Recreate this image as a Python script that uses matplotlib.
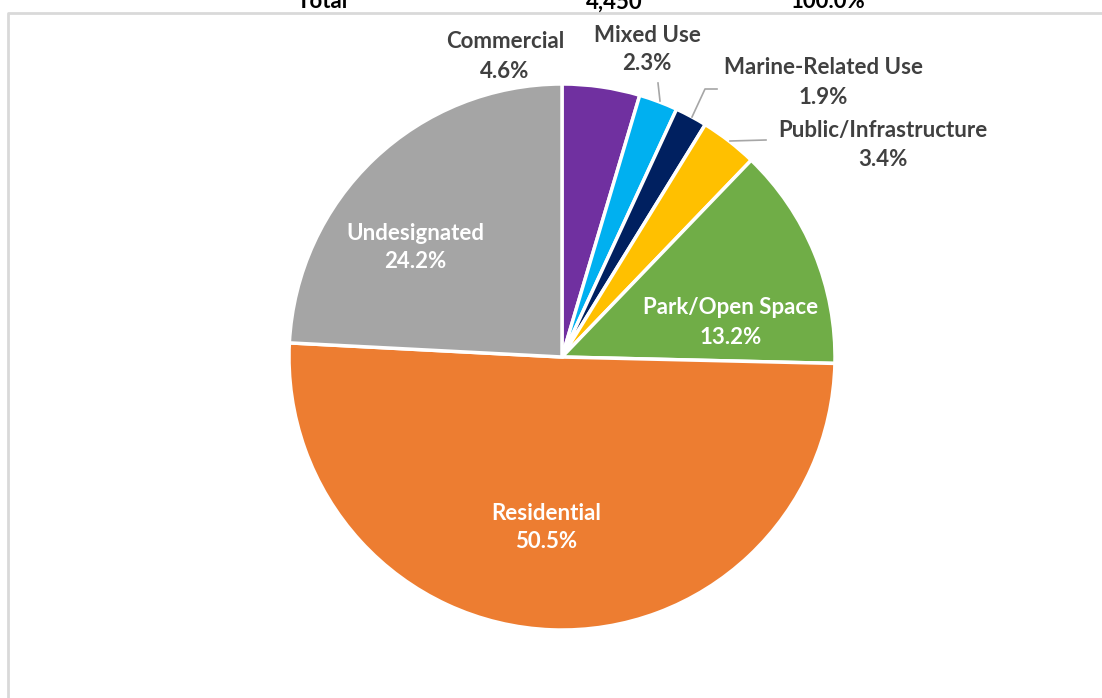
import matplotlib
matplotlib.use('Agg')
import matplotlib.pyplot as plt

plt.rcParams['font.family'] = ['Lato', 'DejaVu Sans']

labels = ['Commercial', 'Mixed Use', 'Marine-Related Use', 'Public/Infrastructure',
          'Park/Open Space', 'Residential', 'Undesignated']
shares = [4.6, 2.3, 1.9, 3.4, 13.2, 50.5, 24.2]
colors = ['#7030A0', '#00B0F0', '#002060', '#FFC000', '#70AD47', '#ED7D31', '#A5A5A5']
explode = [0, 0, 0, 0, 0, 0.015, 0]

W, H = 1102, 698
fig = plt.figure(figsize=(W / 100, H / 100), dpi=100)
ax = fig.add_axes([0, 0, 1, 1])

def Y(y):  # pixel row -> data y
    return H - y

cx, cy, r = 562, 357, 273
ax.pie(shares, colors=colors, startangle=90, counterclock=False, explode=explode,
       center=(cx, Y(cy)), radius=r, frame=True,
       wedgeprops=dict(edgecolor='white', linewidth=2.5))
ax.set_xlim(0, W)
ax.set_ylim(0, H)
ax.set_aspect('equal')
ax.axis('off')

# chart frame (extends past the image on the right / bottom)
ax.plot([8, 8, W + 10], [Y(H + 10), Y(13), Y(13)], color='#D9D9D9', lw=2, clip_on=False)

# cut-off table row above the chart
for x, t in [(322, 'Total'), (614, '4,450'), (828, '100.0%')]:
    ax.text(x, Y(2), t, ha='center', va='center', fontsize=16, fontweight='bold',
            color='black')

# label positions (pixels), text colour
pos = {
    'Commercial': (505, 42, '#404040'),
    'Mixed Use': (647, 35, '#404040'),
    'Marine-Related Use': (823, 68, '#404040'),
    'Public/Infrastructure': (883, 131, '#404040'),
    'Park/Open Space': (731, 308, 'white'),
    'Residential': (546, 513, 'white'),
    'Undesignated': (415, 233, 'white'),
}
for lab, s in zip(labels, shares):
    x, y, c = pos[lab]
    ax.text(x, Y(y), lab, ha='center', va='center', fontsize=16, fontweight='bold', color=c)
    ax.text(x, Y(y + 29), '%.1f%%' % s, ha='center', va='center', fontsize=16,
            fontweight='bold', color=c)

# leader lines
lc = '#A6A6A6'
ax.plot([658, 660], [Y(83), Y(101)], color=lc, lw=1.2)
ax.plot([692, 705, 717], [Y(117), Y(89), Y(89)], color=lc, lw=1.2)
ax.plot([730, 766], [Y(141), Y(140)], color=lc, lw=1.2)

fig.savefig('out.png', dpi=100, facecolor='white')
